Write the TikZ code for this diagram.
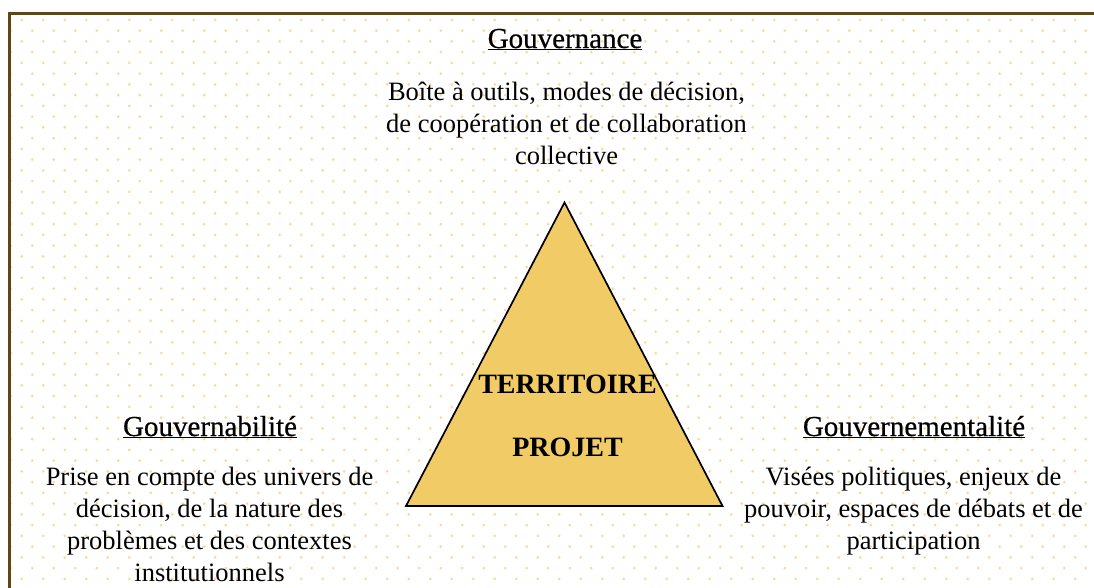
\documentclass[tikz,border=0pt]{standalone}
\usepackage{fontspec}
\setmainfont{Liberation Serif}
\definecolor{cadre}{HTML}{5F4710}
\definecolor{pointille}{HTML}{F7DC90}
\definecolor{jaune}{HTML}{F1CB65}
\begin{document}
\begin{tikzpicture}[x=1pt,y=-1pt,
    titre/.style={anchor=base, inner sep=0pt, font=\fontsize{29}{32}\selectfont\addfontfeature{FakeBold=0.5}},
    texte/.style={anchor=base, inner sep=0pt, align=center, font=\fontsize{26.5}{32}\selectfont},
    centre/.style={anchor=base, inner sep=0pt, font=\fontsize{28}{32}\selectfont\bfseries}]
    \useasboundingbox (0,0) rectangle (1094,587);
    \clip (0,0) rectangle (1094,587);
% fond a pois
    \fill[pointille] \foreach \r in {0,...,26} { \foreach \c in {0,...,50} {
        (21.7+21.5*\c, 19.8+21.5*\r) circle [radius=1.5pt]
        (10.7+21.5*\c, 30.55+21.5*\r) circle [radius=1.5pt] } };
    \draw[cadre, line width=3pt] (9,600) -- (9,13) -- (1100,13);
    \coordinate (apex) at (564.5,202.5);
    \coordinate (baseL) at (406,506);
    \coordinate (baseR) at (722.5,506);
    \filldraw[fill=jaune, draw=black, line width=1.7pt, line join=miter] (apex) -- (baseL) -- (baseR) -- cycle;
    \node[centre] (territoire) at (567.5,393) {TERRITOIRE};
    \node[centre] (projet) at (567.5,456) {PROJET};
    \node[titre] (gouvernance) at (565,48) {\underline{Gouvernance}};
% la base d'un bloc est la ligne du bas
    \node[texte] (outils) at (566.5,164) {Boîte à outils, modes de décision,\\de coopération et de collaboration\\collective};
    \node[titre] (gouvernabilite) at (210,436) {\underline{Gouvernabilité}};
    \node[texte] (univers) at (209.5,581) {Prise en compte des univers de\\décision, de la nature des\\problèmes et des contextes\\institutionnels};
    \node[titre] (gouvernementalite) at (914,436) {\underline{Gouvernementalité}};
    \node[texte] (visees) at (913.5,549) {Visées politiques, enjeux de\\pouvoir, espaces de débats et de\\participation};
\end{tikzpicture}
\end{document}
